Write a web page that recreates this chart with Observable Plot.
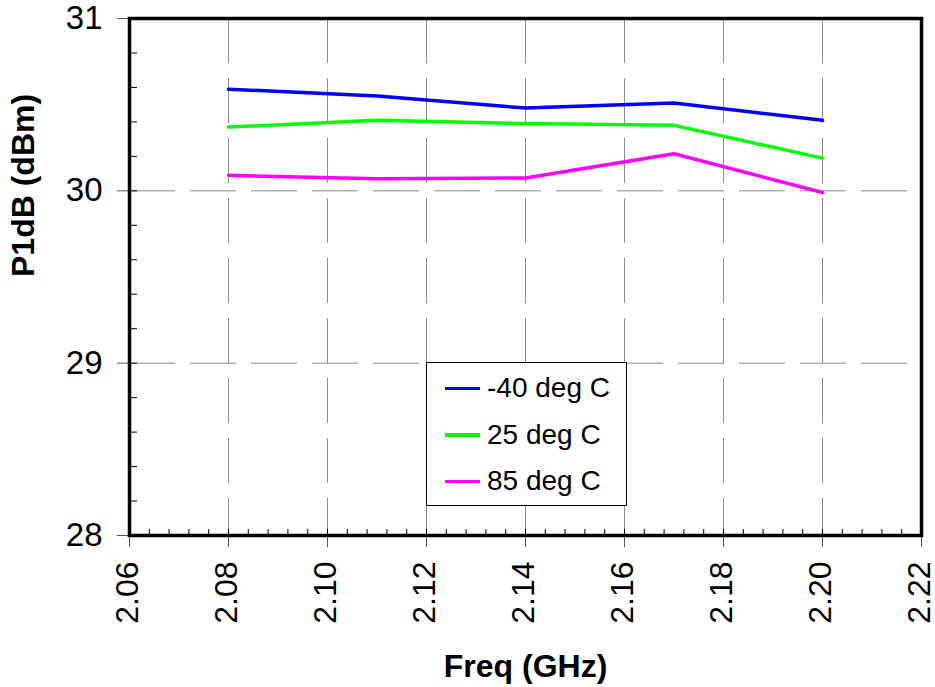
<!DOCTYPE html>
<html>
<head>
<meta charset="utf-8">
<script src="https://cdn.jsdelivr.net/npm/d3@7"></script>
<script src="https://cdn.jsdelivr.net/npm/@observablehq/plot@0.6"></script>
<style>
  html, body { margin: 0; padding: 0; background: #fff; }
  #wrap { position: relative; width: 935px; height: 687px; font-family: "Liberation Sans", Arial, sans-serif; }
  #legend { position: absolute; left: 426px; top: 362px; width: 199px; border: 1px solid #000; background: #fff; box-sizing: content-box; padding-top: 2px; height: 140px; }
  .row { display: flex; align-items: center; height: 46.5px; }
  .swatch { margin-left: 18px; width: 35px; height: 3.5px; }
  .lbl { margin-left: 7px; font-size: 28px; color: #000; line-height: 1; }
</style>
</head>
<body>
<div id="wrap"></div>
<script>
// ---- data ----
const freqs = [2.08, 2.11, 2.14, 2.17, 2.20];
const seriesNames = ["-40 deg C", "25 deg C", "85 deg C"];
const seriesColors = ["#0000ff", "#00ff00", "#ff00ff"];
const p1dbMinus40 = [30.59, 30.55, 30.48, 30.51, 30.41];
const p1db25 = [30.37, 30.41, 30.39, 30.38, 30.19];
const p1db85 = [30.09, 30.07, 30.075, 30.215, 29.99];
const xTicks = [2.06, 2.08, 2.10, 2.12, 2.14, 2.16, 2.18, 2.20, 2.22];
const yTicks = [28, 29, 30, 31];
const xTitle = "Freq (GHz)";
const yTitle = "P1dB (dBm)";

const seriesValues = [p1dbMinus40, p1db25, p1db85];
const rows = [];
seriesNames.forEach((name, s) => freqs.forEach((f, i) => rows.push({freq: f, p1db: seriesValues[s][i], series: name})));

const xMinor = d3.range(0, 41).map(i => +(2.06 + i * 0.004).toFixed(3));
const yMinor = d3.range(0, 16).map(i => +(28 + i * 0.2).toFixed(1));

const chart = Plot.plot({
  width: 935,
  height: 687,
  marginTop: 18,
  marginRight: 14,
  marginBottom: 152,
  marginLeft: 129,
  style: { fontFamily: "'Liberation Sans', Arial, sans-serif", background: "white", color: "black", overflow: "visible" },
  x: { domain: [2.06, 2.22] },
  y: { domain: [28, 31] },
  color: { domain: seriesNames, range: seriesColors },
  marks: [
    Plot.gridX(xTicks, { stroke: "#8c8c8c", strokeOpacity: 1, strokeWidth: 1, strokeDasharray: "45,15" }),
    Plot.gridY(yTicks, { stroke: "#8c8c8c", strokeOpacity: 1, strokeWidth: 1, strokeDasharray: "46,15" }),
    Plot.line(rows, { x: "freq", y: "p1db", z: "series", stroke: "series", strokeWidth: 3.5 }),
    Plot.axisX(xMinor, { tickSize: 6, dy: -6, tickFormat: () => "", label: null, stroke: "black" }),
    Plot.axisY(yMinor, { tickSize: 8, dx: 8, tickFormat: () => "", label: null, stroke: "black" }),
    Plot.axisX(xTicks, { tickSize: 12, tickFormat: () => "", label: null, stroke: "#555" }),
    Plot.axisX(xTicks, { tickSize: 0, tickPadding: 26, tickRotate: -90, tickFormat: d3.format(".2f"), fontSize: 32, dx: -2, label: null }),
    Plot.axisY(yTicks, { tickSize: 12, tickPadding: 15, tickFormat: d3.format("d"), fontSize: 33, label: null, stroke: "#555" }),
    Plot.frame({ stroke: "black", strokeWidth: 3.5 }),
    Plot.text([xTitle], { text: d => d, frameAnchor: "bottom", dy: 131, fontSize: 32, fontWeight: "bold", lineAnchor: "middle" }),
    Plot.text([yTitle], { text: d => d, frameAnchor: "left", dx: -106, rotate: -90, fontSize: 32, fontWeight: "bold", lineAnchor: "middle" })
  ]
});

const wrap = document.getElementById("wrap");
wrap.appendChild(chart);

const legend = document.createElement("div");
legend.id = "legend";
seriesNames.forEach((name, i) => {
  const row = document.createElement("div");
  row.className = "row";
  const sw = document.createElement("div");
  sw.className = "swatch";
  sw.style.background = seriesColors[i];
  const lbl = document.createElement("div");
  lbl.className = "lbl";
  lbl.textContent = name;
  row.appendChild(sw);
  row.appendChild(lbl);
  legend.appendChild(row);
});
wrap.appendChild(legend);
</script>
</body>
</html>
